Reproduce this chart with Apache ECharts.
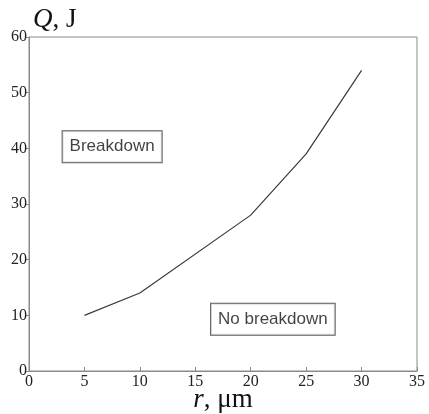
<!DOCTYPE html>
<html>
<head>
<meta charset="utf-8">
<script src="https://cdn.jsdelivr.net/npm/echarts@6/dist/echarts.min.js"></script>
<style>
  html, body { margin: 0; padding: 0; background: #fff; }
  #chart { width: 429px; height: 414px; }
</style>
</head>
<body>
<div id="chart"></div>
<script>
// values
const radius = [5, 10, 20, 25, 30]
const energy = [10, 14, 28, 39, 54]
const regionNames = ['Breakdown', 'No breakdown']
const regionPos = [[7.5, 40.3], [22, 9.3]]

const serif = 'Liberation Serif'
const sans = 'Liberation Sans'

const chart = echarts.init(document.getElementById('chart'))
chart.setOption({
  animation: false,
  backgroundColor: '#fff',
  grid: {
    left: 29,
    right: 12,
    top: 37,
    bottom: 43,
    outerBoundsMode: 'none',
    containLabel: false,
    show: true,
    borderColor: '#8a8a8a',
    borderWidth: 1
  },
  xAxis: {
    type: 'value',
    min: 0,
    max: 35,
    interval: 5,
    name: '{i|r}, μm',
    nameLocation: 'middle',
    nameGap: 15,
    nameMoveOverlap: false,
    nameTextStyle: {
      fontFamily: serif,
      fontSize: 27,
      color: '#111',
      rich: { i: { fontFamily: serif, fontStyle: 'italic', fontSize: 27, color: '#111' } }
    },
    axisLine: { lineStyle: { color: '#8a8a8a' } },
    axisTick: { inside: true, length: 4, lineStyle: { color: '#8a8a8a' } },
    axisLabel: { fontFamily: serif, fontSize: 16, color: '#222', margin: 3 },
    splitLine: { show: false }
  },
  yAxis: {
    type: 'value',
    min: 0,
    max: 60,
    interval: 10,
    name: '{i|Q}, J',
    nameLocation: 'end',
    nameGap: 4,
    nameMoveOverlap: false,
    nameTextStyle: {
      fontFamily: serif,
      fontSize: 27,
      color: '#111',
      align: 'left',
      padding: [0, 0, 0, 4],
      rich: { i: { fontFamily: serif, fontStyle: 'italic', fontSize: 27, color: '#111' } }
    },
    axisLine: { show: true, lineStyle: { color: '#8a8a8a' } },
    axisTick: { show: true, inside: false, length: 3, lineStyle: { color: '#8a8a8a' } },
    axisLabel: { fontFamily: serif, fontSize: 16, color: '#222', margin: 2 },
    splitLine: { show: false }
  },
  series: [
    {
      type: 'line',
      data: radius.map((r, i) => [r, energy[i]]),
      symbol: 'none',
      lineStyle: { color: '#3a3a3a', width: 1.2 }
    },
    {
      type: 'scatter',
      data: regionPos.map((p, i) => ({ value: p, name: regionNames[i] })),
      symbolSize: 1,
      itemStyle: { color: 'rgba(0,0,0,0)' },
      label: {
        show: true,
        position: 'inside',
        formatter: p => p.name,
        fontFamily: sans,
        fontSize: 17,
        color: '#111',
        borderColor: '#333',
        borderWidth: 1,
        padding: [8, 7, 6, 7],
        backgroundColor: '#fff'
      }
    }
  ]
})
</script>
</body>
</html>
